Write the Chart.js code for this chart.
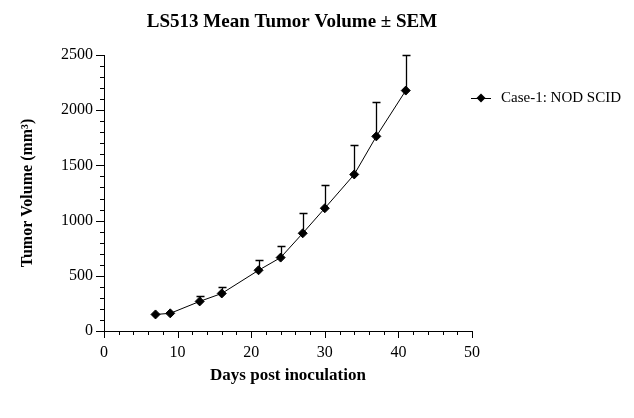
<!DOCTYPE html>
<html>
<head>
<meta charset="utf-8">
<script src="https://cdn.jsdelivr.net/npm/chart.js@4"></script>
<style>
  html, body { margin: 0; padding: 0; background: #fff; }
  #wrap { width: 634px; height: 418px; }
</style>
</head>
<body>
<div id="wrap"><canvas id="tumorChart" width="634" height="418"></canvas></div>
<script>
// days post inoculation
const days = [7, 9, 13, 16, 21, 24, 27, 30, 34, 37, 41];
// mean tumor volume (mm3)
const meanVolume = [150, 160, 268, 340, 550, 665, 885, 1112, 1418, 1763, 2178];
// SEM (upper bar only)
const semVolume = [0, 0, 53, 62, 97, 105, 181, 214, 270, 315, 319];
const xTicks = [0, 10, 20, 30, 40, 50];
const yTicks = [0, 500, 1000, 1500, 2000, 2500];
const seriesName = "Case-1: NOD SCID";
const chartTitle = "LS513 Mean Tumor Volume \u00b1 SEM";

const serif = "'Liberation Serif', 'Times New Roman', serif";

// draws error bars, minor ticks, title and legend
const extrasPlugin = {
  id: "extras",
  afterDatasetsDraw(chart) {
    const ctx = chart.ctx;
    const xs = chart.scales.x;
    const ys = chart.scales.y;
    ctx.save();
    ctx.strokeStyle = "#000";
    ctx.lineWidth = 1.3;
    days.forEach((d, i) => {
      if (!semVolume[i]) return;
      const px = Math.round(xs.getPixelForValue(d)) + 0.5;
      const y0 = ys.getPixelForValue(meanVolume[i]);
      const y1 = Math.round(ys.getPixelForValue(meanVolume[i] + semVolume[i])) + 0.5;
      ctx.beginPath();
      ctx.moveTo(px, y0);
      ctx.lineTo(px, y1);
      ctx.moveTo(px - 4, y1);
      ctx.lineTo(px + 4, y1);
      ctx.stroke();
    });
    ctx.restore();
  },
  afterDraw(chart) {
    const ctx = chart.ctx;
    const xs = chart.scales.x;
    const ys = chart.scales.y;
    const area = chart.chartArea;
    ctx.save();
    ctx.strokeStyle = "#000";
    ctx.lineWidth = 1;
    // major + minor ticks
    ctx.beginPath();
    for (let v = 0; v <= 50; v += 2) {
      const px = Math.round(xs.getPixelForValue(v)) + 0.5;
      const len = v % 10 === 0 ? 7 : 4;
      ctx.moveTo(px, area.bottom);
      ctx.lineTo(px, area.bottom + len);
    }
    for (let v = 0; v <= 2500; v += 100) {
      const py = Math.round(ys.getPixelForValue(v)) + 0.5;
      const len = v % 500 === 0 ? 8 : 4;
      ctx.moveTo(area.left, py);
      ctx.lineTo(area.left - len, py);
    }
    ctx.stroke();

    // title
    ctx.fillStyle = "#000";
    ctx.font = "bold 19px " + serif;
    ctx.textAlign = "center";
    ctx.textBaseline = "middle";
    ctx.fillText(chartTitle, 292, 22);

    // legend
    const ly = 98;
    ctx.lineWidth = 1;
    ctx.beginPath();
    ctx.moveTo(471, ly + 0.5);
    ctx.lineTo(491, ly + 0.5);
    ctx.stroke();
    ctx.beginPath();
    ctx.moveTo(481, ly - 4.5);
    ctx.lineTo(485.5, ly);
    ctx.lineTo(481, ly + 4.5);
    ctx.lineTo(476.5, ly);
    ctx.closePath();
    ctx.fill();
    ctx.font = "15px " + serif;
    ctx.textAlign = "left";
    ctx.fillText(seriesName, 501, ly);
    ctx.restore();
  }
};

new Chart(document.getElementById("tumorChart"), {
  type: "line",
  data: {
    datasets: [{
      label: seriesName,
      data: days.map((d, i) => ({ x: d, y: meanVolume[i] })),
      borderColor: "#000",
      backgroundColor: "#000",
      borderWidth: 1,
      pointStyle: "rectRot",
      pointRadius: 4.5,
      pointHoverRadius: 4.5,
      tension: 0
    }]
  },
  options: {
    responsive: false,
    animation: false,
    events: [],
    layout: { padding: { top: 55, right: 162, left: 0, bottom: 0 } },
    plugins: {
      legend: { display: false },
      title: { display: false },
      tooltip: { enabled: false }
    },
    scales: {
      x: {
        type: "linear",
        min: 0,
        max: 50,
        afterBuildTicks: (scale) => { scale.ticks = xTicks.map((v) => ({ value: v })); },
        afterFit: (scale) => { scale.height = 87; },
        grid: { display: false, drawTicks: false },
        border: { display: true, color: "#000", width: 1 },
        ticks: {
          color: "#000",
          font: { family: serif, size: 16 },
          padding: 12,
          maxRotation: 0,
          callback: (v) => String(v)
        },
        title: {
          display: true,
          text: "Days post inoculation",
          color: "#000",
          font: { family: serif, size: 17, weight: "bold" },
          padding: { top: 0, bottom: 32 }
        }
      },
      y: {
        type: "linear",
        min: 0,
        max: 2500,
        afterBuildTicks: (scale) => { scale.ticks = yTicks.map((v) => ({ value: v })); },
        afterFit: (scale) => { scale.width = 104; },
        grid: { display: false, drawTicks: false },
        border: { display: true, color: "#000", width: 1 },
        ticks: {
          color: "#000",
          font: { family: serif, size: 16 },
          padding: 11,
          callback: (v) => String(v)
        },
        title: {
          display: true,
          text: "Tumor Volume (mm\u00b3)",
          color: "#000",
          font: { family: serif, size: 16, weight: "bold" },
          padding: { top: 18, bottom: 0 }
        }
      }
    }
  },
  plugins: [extrasPlugin]
});
</script>
</body>
</html>
